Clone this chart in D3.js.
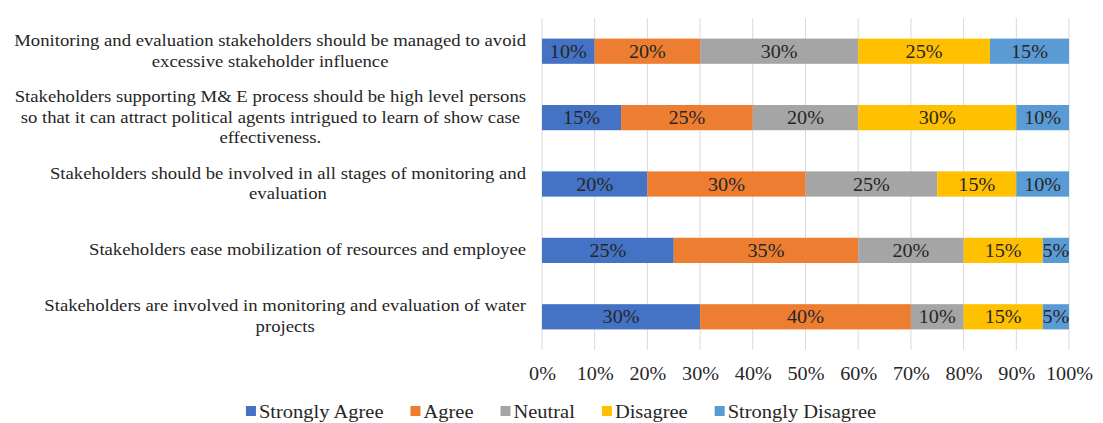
<!DOCTYPE html>
<html>
<head>
<meta charset="utf-8">
<script src="https://cdn.jsdelivr.net/npm/d3@7"></script>
<style>
  body { margin: 0; background: #fff; }
  svg { display: block; }
  text { font-family: 'Liberation Serif', 'Times New Roman', serif; }
</style>
</head>
<body>
<div id="chart"></div>
<script>
// Survey statements, top to bottom (already wrapped as in the picture)
const categories = [
  ['Monitoring and evaluation stakeholders should be managed to avoid', 'excessive stakeholder influence'],
  ['Stakeholders supporting M& E process should be high level persons', 'so that it can attract political agents intrigued to learn of show case', 'effectiveness.'],
  ['Stakeholders should be involved in all stages of monitoring and', 'evaluation'],
  ['Stakeholders ease mobilization of resources and employee'],
  ['Stakeholders are involved in monitoring and evaluation of water', 'projects'],
];
const seriesNames = ['Strongly Agree', 'Agree', 'Neutral', 'Disagree', 'Strongly Disagree'];
const strongAgree    = [10, 15, 20, 25, 30];
const agree          = [20, 25, 30, 35, 40];
const neutral        = [30, 20, 25, 20, 10];
const disagree       = [25, 30, 15, 15, 15];
const strongDisagree = [15, 10, 10, 5, 5];
const tickValues = [0, 10, 20, 30, 40, 50, 60, 70, 80, 90, 100];

const colors = ['#4472C4', '#ED7D31', '#A5A5A5', '#FFC000', '#5B9BD5'];
const INK = '#262626';
const SX = 1.12; // the source picture is a little wider than tall, so stretch glyphs

const W = 1103, H = 423;
const M = { left: 542, right: 34, top: 18, bottom: 73 };

const rows = categories.map((c, i) => ({
  idx: i,
  lines: c,
  'Strongly Agree': strongAgree[i],
  'Agree': agree[i],
  'Neutral': neutral[i],
  'Disagree': disagree[i],
  'Strongly Disagree': strongDisagree[i],
}));

const svg = d3.select('#chart').append('svg')
  .attr('width', W).attr('height', H)
  .attr('viewBox', `0 0 ${W} ${H}`);

const x = d3.scaleLinear().domain([0, 100]).range([M.left, W - M.right]);
const y = d3.scaleBand().domain(rows.map(d => d.idx))
  .range([M.top, H - M.bottom]).paddingInner(0.62).paddingOuter(0.31);

// Gridlines
svg.append('g')
  .selectAll('line').data(tickValues).join('line')
  .attr('x1', d => x(d)).attr('x2', d => x(d))
  .attr('y1', M.top).attr('y2', H - M.bottom)
  .attr('stroke', '#d9d9d9').attr('stroke-width', 1);

// Stacked bars
const stacked = d3.stack().keys(seriesNames)(rows);
const layer = svg.append('g').selectAll('g').data(stacked).join('g')
  .attr('fill', (d, i) => colors[i]);

layer.selectAll('rect').data(d => d).join('rect')
  .attr('x', d => x(d[0]))
  .attr('y', d => y(d.data.idx))
  .attr('width', d => x(d[1]) - x(d[0]))
  .attr('height', y.bandwidth());

// Value labels
layer.selectAll('text').data(d => d).join('text')
  .attr('transform', d =>
    `translate(${(x(d[0]) + x(d[1])) / 2},${y(d.data.idx) + y.bandwidth() / 2 + 6.5}) scale(${SX},1)`)
  .attr('text-anchor', 'middle')
  .attr('font-size', 18)
  .attr('fill', INK)
  .text(d => `${d[1] - d[0]}%`);

// X axis labels
const xAxis = d3.axisBottom(x).tickValues(tickValues)
  .tickFormat(d => `${d}%`).tickSize(0).tickPadding(0);
const gx = svg.append('g')
  .attr('transform', `translate(0, 367)`)
  .call(xAxis);
gx.select('.domain').remove();
gx.selectAll('text')
  .attr('font-size', 18).attr('fill', INK)
  .attr('transform', `scale(${SX},1)`);

// Category labels: centred block, right edge aligned near the plot
const labelRight = 526;
const lineH = 20.8;
rows.forEach(r => {
  const g = svg.append('g');
  const cy = y(r.idx) + y.bandwidth() / 2;
  const n = r.lines.length;
  const texts = r.lines.map((ln, k) => g.append('text')
    .datum(cy + (k - (n - 1) / 2) * lineH + 5)
    .attr('text-anchor', 'middle')
    .attr('font-size', 16.7)
    .attr('fill', INK)
    .text(ln));
  const maxW = SX * d3.max(texts, t => t.node().getComputedTextLength());
  texts.forEach(t => t.attr('transform',
    `translate(${labelRight - maxW / 2},${t.datum()}) scale(${SX},1)`));
});

// Legend
const legend = svg.append('g');
const gap = 27;
let lx = 0;
seriesNames.forEach((name, i) => {
  const g = legend.append('g').attr('transform', `translate(${lx},0)`);
  g.append('rect').attr('x', 0).attr('y', -12).attr('width', 10).attr('height', 10)
    .attr('fill', colors[i]);
  const t = g.append('text')
    .attr('transform', `translate(13,0) scale(${SX},1)`)
    .attr('font-size', 18.3).attr('fill', INK)
    .text(name);
  lx += 13 + SX * t.node().getComputedTextLength() + gap;
});
const legendW = lx - gap;
legend.attr('transform', `translate(${561 - legendW / 2}, 418)`);
</script>
</body>
</html>
